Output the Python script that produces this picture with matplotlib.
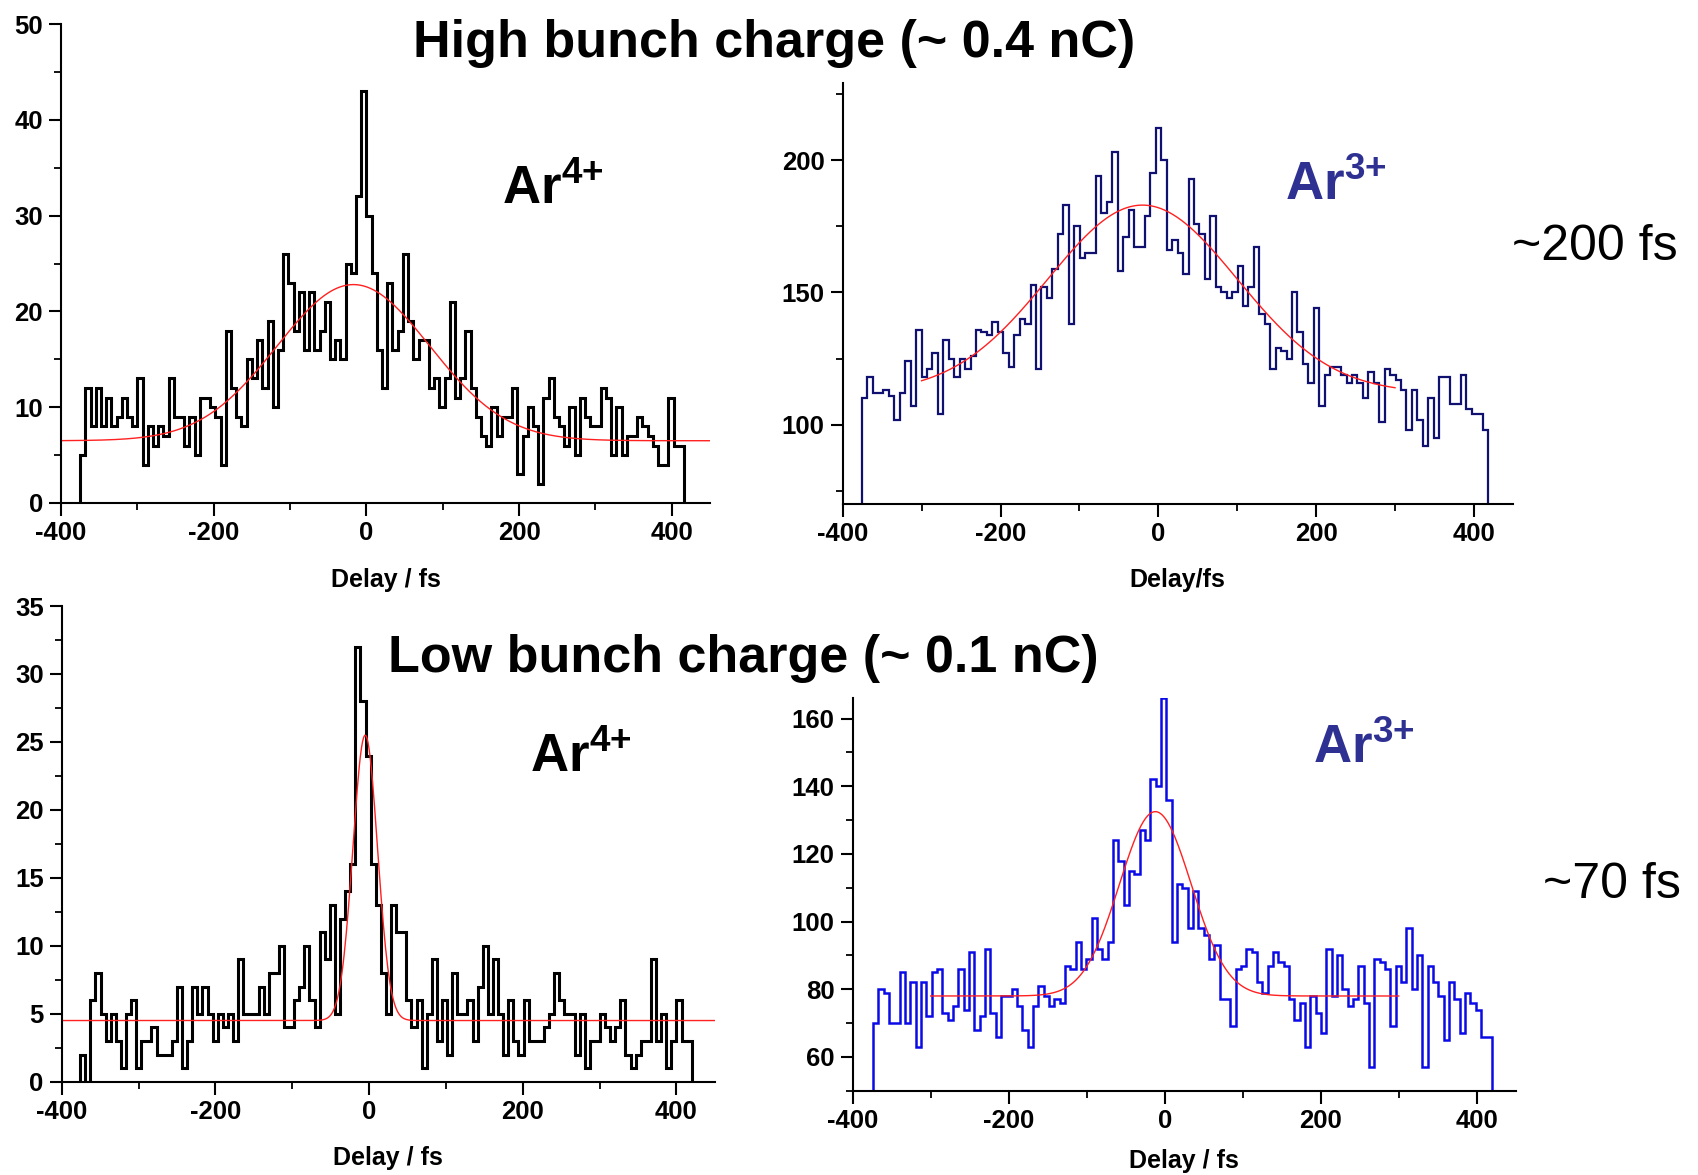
import numpy as np
import matplotlib
matplotlib.use('Agg')
import matplotlib.pyplot as plt
from matplotlib.ticker import MultipleLocator

plt.rcParams['font.family'] = ['Liberation Sans', 'DejaVu Sans']
plt.rcParams['font.weight'] = 'bold'
plt.rcParams['axes.unicode_minus'] = False
plt.rcParams['mathtext.fontset'] = 'custom'
plt.rcParams['mathtext.bf'] = 'Liberation Sans:bold'
plt.rcParams['mathtext.rm'] = 'Liberation Sans:bold'

# ---------------- data ----------------
# High bunch charge, Ar4+
hi4_range = (-375, 416)
hi4_counts = [5, 12, 8, 12, 8, 11, 8, 9, 11, 9, 8, 13, 4, 8, 6, 8, 7, 13, 9, 9, 6, 9, 5, 11, 11, 10, 9, 4,
              18, 12, 9, 8, 15, 13, 17, 12, 19, 10, 16, 26, 23, 18, 22, 16, 22, 16, 18, 21, 15, 17, 15,
              25, 24, 32, 43,
              30, 24, 16, 12, 23, 16, 18, 26, 19, 15, 17, 17, 12, 13, 10, 13, 21, 11, 13, 18, 12, 9, 7,
              6, 10, 7, 9, 9, 12, 3, 7, 10, 8, 2, 11, 13, 9, 8, 6, 10, 5, 11, 9, 8, 8, 12, 11, 5, 10, 5,
              7, 7, 9, 8, 7, 6, 4, 4, 11, 6, 6]
hi4_fit = dict(offset=6.5, amp=16.3, center=-17, sigma=100, xmin=-400, xmax=450)

# High bunch charge, Ar3+
hi3_range = (-376, 418)
hi3_counts = [110, 118, 112, 112, 113, 111, 102, 112, 124, 107, 136, 118, 121, 127, 104, 132, 125, 118,
              125, 121, 126, 136, 135, 134, 139, 135, 127, 122, 134, 140, 138, 153, 121, 152, 148, 159,
              172, 183, 138, 175, 163, 165, 165, 194, 180, 184, 203, 158, 171, 181, 167, 167, 179, 195,
              212,
              200, 166, 170, 165, 157, 193, 176, 172, 155, 179, 152, 150, 148, 150, 160, 145, 152, 167,
              142, 138, 121, 129, 128, 125, 150, 135, 123, 116, 144, 107,
              119, 122, 122, 119, 116, 119, 116, 110, 120, 116, 101, 121, 119, 117, 113, 98, 113, 102,
              92, 110, 95, 118, 118, 108, 108, 119, 106, 104, 104, 98]
hi3_fit = dict(offset=112, amp=71, center=-20, sigma=120, xmin=-300, xmax=300)

# Low bunch charge, Ar4+
lo4_range = (-376, 420)
lo4_counts = [2, 0, 6, 8, 5, 3, 5, 3, 1, 5, 6, 1, 3, 3, 4, 2, 2, 2, 3, 7, 1, 3, 7, 5, 7, 5, 3, 5, 4, 5,
              3, 9, 5, 5, 5, 7, 5, 8, 8, 10, 4, 4, 6, 7, 10, 6, 4, 11, 9, 13, 5, 12, 14, 16,
              32, 28, 24, 16, 13, 8, 5, 13, 11, 11, 6, 4, 6, 1, 5, 9, 3, 6, 2, 8, 5, 5, 6, 3, 7, 10, 5,
              9, 5, 2, 6, 3, 2, 6, 3, 3, 3, 4, 5, 8, 6, 5, 5, 2, 5, 1, 3, 3, 5, 4, 3, 4, 6, 2, 1, 2, 3,
              3, 9, 3, 5, 1, 3, 6, 3, 3]
lo4_fit = dict(offset=4.5, amp=21.0, center=-5, sigma=16, xmin=-400, xmax=450)

# Low bunch charge, Ar3+
lo3_range = (-374, 419)
lo3_counts = [70, 80, 79, 70, 70, 85, 70, 82, 63, 82, 72, 85, 86, 73, 71, 75, 86, 74, 91, 68, 72, 92, 73,
              66, 78, 78, 80, 75, 68, 63, 75, 81, 78, 75, 77, 76, 87, 86, 94, 86, 89, 101, 92, 89, 94,
              124, 118, 105, 115, 114, 127, 124, 142, 140,
              166, 136, 94, 111, 110, 98, 109, 98, 96, 89, 93, 77, 77, 69, 86, 87, 92, 91, 82, 79, 87,
              91, 88, 87, 77, 71, 76, 63, 78, 73, 67, 92, 78, 90, 80, 75, 77, 87, 76, 57, 89, 88, 86,
              69, 87, 82, 98, 80, 90, 57, 87, 82, 78, 65, 82, 77, 67, 79, 76, 74, 66, 66]
lo3_fit = dict(offset=78, amp=54.5, center=-12, sigma=46, xmin=-300, xmax=300)

x_ticks = [-400, -200, 0, 200, 400]

# ---------------- figure ----------------
W, H = 1698, 1175
fig = plt.figure(figsize=(W / 100, H / 100), dpi=100)


def axes_px(left, right, top, bottom):
    return fig.add_axes([left / W, 1 - bottom / H, (right - left) / W, (bottom - top) / H])


def style(ax, ylim, ymaj, ymin):
    ax.set_xlim(-400, 450)
    ax.set_ylim(*ylim)
    ax.set_xticks(x_ticks)
    ax.xaxis.set_minor_locator(MultipleLocator(100))
    ax.yaxis.set_major_locator(MultipleLocator(ymaj))
    ax.yaxis.set_minor_locator(MultipleLocator(ymin))
    for s in ['top', 'right']:
        ax.spines[s].set_visible(False)
    for s in ['left', 'bottom']:
        ax.spines[s].set_linewidth(1.5)
    ax.tick_params(which='major', direction='out', length=9, width=1.5, labelsize=18.5, pad=4)
    ax.tick_params(which='minor', direction='out', length=5, width=1.3)
    ax.patch.set_alpha(0)


def draw(ax, rng, counts, fit, color, lw, base):
    edges = np.linspace(rng[0], rng[1], len(counts) + 1)
    ax.stairs(counts, edges, baseline=base, color=color, lw=lw)
    xf = np.linspace(fit['xmin'], fit['xmax'], 600)
    yf = fit['offset'] + fit['amp'] * np.exp(-(xf - fit['center']) ** 2 / (2 * fit['sigma'] ** 2))
    ax.plot(xf, yf, color='#ff2020', lw=1.0)


ax1 = axes_px(61, 710, 24, 503)
style(ax1, (0, 50), 10, 5)
draw(ax1, hi4_range, hi4_counts, hi4_fit, 'black', 2.2, 0)

ax2 = axes_px(842.7, 1513.4, 83.3, 504.3)
style(ax2, (70, 229), 50, 25)
draw(ax2, hi3_range, hi3_counts, hi3_fit, '#101070', 1.6, 70)

ax3 = axes_px(61.7, 714.8, 606, 1081.7)
style(ax3, (0, 35), 5, 2.5)
draw(ax3, lo4_range, lo4_counts, lo4_fit, 'black', 2.2, 0)

ax4 = axes_px(852.7, 1515.7, 698.3, 1090.7)
style(ax4, (50, 166), 20, 10)
draw(ax4, lo3_range, lo3_counts, lo3_fit, '#0a0ae6', 1.8, 50)


def ftext(x, y, s, **kw):
    fig.text(x / W, 1 - y / H, s, ha='center', va='center', **kw)


ftext(774, 43, 'High bunch charge (~ 0.4 nC)', fontsize=37.5, fontweight='bold')
ftext(743, 658, 'Low bunch charge (~ 0.1 nC)', fontsize=37.5, fontweight='bold')
ftext(553, 190, r'$\mathbf{Ar^{4{+}}}$', fontsize=38, color='black')
ftext(1336, 186, r'$\mathbf{Ar^{3{+}}}$', fontsize=38, color='#2e3192')
ftext(581, 758, r'$\mathbf{Ar^{4{+}}}$', fontsize=38, color='black')
ftext(1364, 749, r'$\mathbf{Ar^{3{+}}}$', fontsize=38, color='#2e3192')
ftext(1595, 247, '~200 fs', fontsize=36, fontweight='normal')
ftext(1612, 885, '~70 fs', fontsize=36, fontweight='normal')
ftext(386, 580, 'Delay / fs', fontsize=18, fontweight='bold')
ftext(1177, 580, 'Delay/fs', fontsize=18, fontweight='bold')
ftext(388, 1158, 'Delay / fs', fontsize=18, fontweight='bold')
ftext(1184, 1161, 'Delay / fs', fontsize=18, fontweight='bold')

fig.savefig('out.png', dpi=100)
